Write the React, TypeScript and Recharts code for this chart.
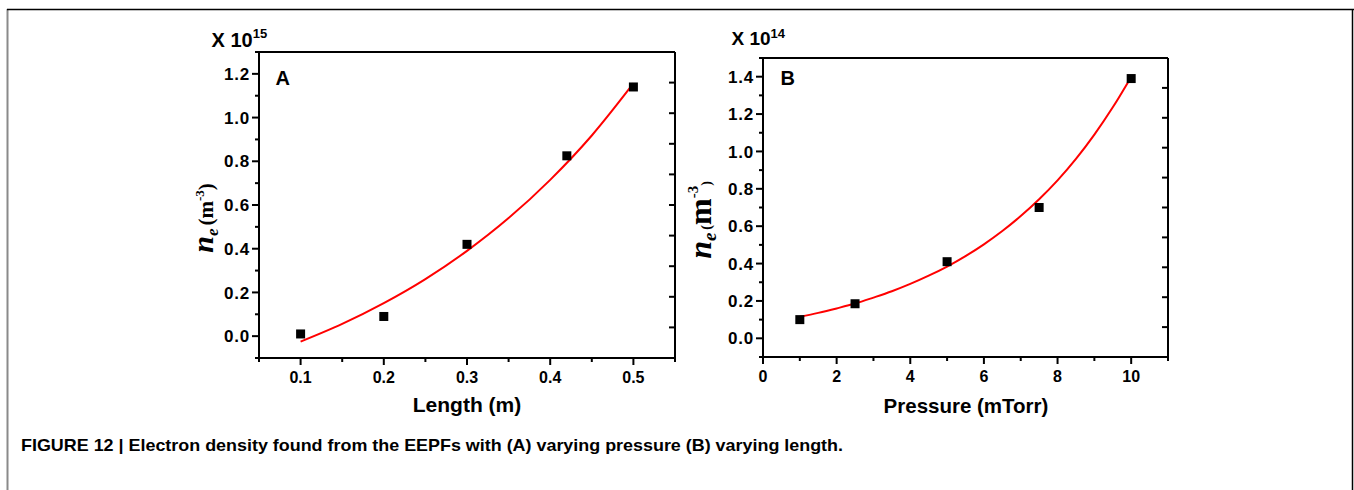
import React from "react";
import { ComposedChart, XAxis, YAxis, Line, Scatter } from "recharts";

// ---------- Panel A data (Length) ----------
const aPoints = [
  { x: 0.1, y: 0.01 },
  { x: 0.2, y: 0.09 },
  { x: 0.3, y: 0.42 },
  { x: 0.42, y: 0.825 },
  { x: 0.5, y: 1.14 },
];
const aFit = [
  { x: 0.1, y: -0.025 },
  { x: 0.15, y: 0.056 },
  { x: 0.2, y: 0.151 },
  { x: 0.25, y: 0.261 },
  { x: 0.3, y: 0.39 },
  { x: 0.35, y: 0.54 },
  { x: 0.4, y: 0.715 },
  { x: 0.45, y: 0.918 },
  { x: 0.5, y: 1.156 },
];
const aXMajor = [0.1, 0.2, 0.3, 0.4, 0.5];
const aXLabels = ["0.1", "0.2", "0.3", "0.4", "0.5"];
const aXMinor = [0.05, 0.15, 0.25, 0.35, 0.45, 0.55];
const aYMajor = [0, 0.2, 0.4, 0.6, 0.8, 1.0, 1.2];
const aYLabels = ["0.0", "0.2", "0.4", "0.6", "0.8", "1.0", "1.2"];
const aYMinor = [-0.1, 0.1, 0.3, 0.5, 0.7, 0.9, 1.1, 1.3];
const aTopTicks = [0.1, 0.15, 0.2, 0.25, 0.3, 0.35, 0.4, 0.45, 0.5];
const aRightTicks = [0.04, 0.18, 0.32, 0.46, 0.6, 0.74, 0.88, 1.02, 1.16];
const aXDomain = [0.05, 0.55];
const aYDomain = [-0.1, 1.3];

// ---------- Panel B data (Pressure) ----------
const bPoints = [
  { x: 1, y: 0.1 },
  { x: 2.5, y: 0.185 },
  { x: 5, y: 0.41 },
  { x: 7.5, y: 0.7 },
  { x: 10, y: 1.39 },
];
const bFit = [
  { x: 1, y: 0.115 },
  { x: 1.5, y: 0.136 },
  { x: 2, y: 0.16 },
  { x: 2.5, y: 0.186 },
  { x: 3, y: 0.218 },
  { x: 3.5, y: 0.252 },
  { x: 4, y: 0.291 },
  { x: 4.5, y: 0.335 },
  { x: 5, y: 0.384 },
  { x: 5.5, y: 0.44 },
  { x: 6, y: 0.503 },
  { x: 6.5, y: 0.574 },
  { x: 7, y: 0.654 },
  { x: 7.5, y: 0.744 },
  { x: 8, y: 0.845 },
  { x: 8.5, y: 0.96 },
  { x: 9, y: 1.09 },
  { x: 9.5, y: 1.236 },
  { x: 10, y: 1.399 },
];
const bXMajor = [0, 2, 4, 6, 8, 10];
const bXLabels = ["0", "2", "4", "6", "8", "10"];
const bXMinor = [1, 3, 5, 7, 9, 11];
const bYMajor = [0, 0.2, 0.4, 0.6, 0.8, 1.0, 1.2, 1.4];
const bYLabels = ["0.0", "0.2", "0.4", "0.6", "0.8", "1.0", "1.2", "1.4"];
const bYMinor = [-0.1, 0.1, 0.3, 0.5, 0.7, 0.9, 1.1, 1.3, 1.5];
const bTopTicks = [1.1, 2.2, 3.3, 4.4, 5.5, 6.6, 7.7, 8.8, 9.9];
const bRightTicks = [0.06, 0.22, 0.38, 0.54, 0.7, 0.86, 1.02, 1.18, 1.34];
const bXDomain = [0, 11];
const bYDomain = [-0.1, 1.5];

const CAPTION =
  "FIGURE 12 | Electron density found from the EEPFs with (A) varying pressure (B) varying length.";

const SANS = "'Liberation Sans', Arial, Helvetica, sans-serif";
const SERIF = "'Liberation Serif', 'Times New Roman', serif";

const sortNums = (a: number[], b: number[]) => [...a, ...b].sort((p, q) => p - q);
const findIdx = (arr: number[], v: number) => arr.findIndex((m) => Math.abs(m - v) < 1e-9);

const makeBottomTick = (majors: number[], labels: string[], fontSize: number) => (props: any) => {
  const { x, y, payload } = props;
  const i = findIdx(majors, payload.value);
  const major = i >= 0;
  return (
    <g>
      <line x1={x} x2={x} y1={y} y2={y + (major ? 7 : 4)} stroke="#000" strokeWidth={2} />
      {major && (
        <text x={x} y={y + 25} textAnchor="middle" fontFamily={SANS} fontWeight="bold" fontSize={fontSize} fill="#000">
          {labels[i]}
        </text>
      )}
    </g>
  );
};

const makeLeftTick = (majors: number[], labels: string[], fontSize: number) => (props: any) => {
  const { x, y, payload } = props;
  const i = findIdx(majors, payload.value);
  const major = i >= 0;
  return (
    <g>
      <line x1={x} x2={x - (major ? 7 : 4)} y1={y} y2={y} stroke="#000" strokeWidth={2} />
      {major && (
        <text
          x={x - 9}
          y={y}
          dy="0.36em"
          textAnchor="end"
          fontFamily={SANS}
          fontWeight="bold"
          fontSize={fontSize}
          letterSpacing={0.8}
          fill="#000"
        >
          {labels[i]}
        </text>
      )}
    </g>
  );
};

const TopTick = (props: any) => {
  const { x, y } = props;
  return <line x1={x} x2={x} y1={y} y2={y + 5} stroke="#000" strokeWidth={2} />;
};
const RightTick = (props: any) => {
  const { x, y } = props;
  return <line x1={x} x2={x - 6} y1={y} y2={y} stroke="#000" strokeWidth={2} />;
};

const SquareDot = (props: any) => {
  const { cx, cy } = props;
  if (cx == null || cy == null) return null;
  return <rect x={cx - 4.5} y={cy - 4.5} width={9} height={9} fill="#000" />;
};

const axisLineStyle = { stroke: "#000", strokeWidth: 2 };

type PanelProps = {
  width: number;
  height: number;
  margin: { top: number; right: number; bottom: number; left: number };
  points: { x: number; y: number }[];
  fit: { x: number; y: number }[];
  xDomain: number[];
  yDomain: number[];
  xMajor: number[];
  xLabels: string[];
  xMinor: number[];
  yMajor: number[];
  yLabels: string[];
  yMinor: number[];
  topTicks: number[];
  rightTicks: number[];
  xFont: number;
  yFont: number;
};

// every axis is 1px thick so that margins + 1 = plot edges
const Panel = (p: PanelProps) => (
  <ComposedChart width={p.width} height={p.height} margin={p.margin}>
    <XAxis
      xAxisId="x"
      dataKey="x"
      type="number"
      orientation="bottom"
      height={1}
      domain={p.xDomain}
      allowDataOverflow
      ticks={sortNums(p.xMajor, p.xMinor)}
      interval={0}
      tickSize={0}
      tickMargin={0}
      tickLine={false}
      axisLine={axisLineStyle}
      tick={makeBottomTick(p.xMajor, p.xLabels, p.xFont)}
    />
    <XAxis
      xAxisId="top"
      type="number"
      orientation="top"
      height={1}
      domain={p.xDomain}
      allowDataOverflow
      ticks={p.topTicks}
      interval={0}
      tickSize={0}
      tickMargin={0}
      tickLine={false}
      axisLine={axisLineStyle}
      tick={TopTick}
    />
    <YAxis
      yAxisId="y"
      type="number"
      orientation="left"
      width={1}
      domain={p.yDomain}
      allowDataOverflow
      ticks={sortNums(p.yMajor, p.yMinor)}
      interval={0}
      tickSize={0}
      tickMargin={0}
      tickLine={false}
      axisLine={axisLineStyle}
      tick={makeLeftTick(p.yMajor, p.yLabels, p.yFont)}
    />
    <YAxis
      yAxisId="right"
      type="number"
      orientation="right"
      width={1}
      domain={p.yDomain}
      allowDataOverflow
      ticks={p.rightTicks}
      interval={0}
      tickSize={0}
      tickMargin={0}
      tickLine={false}
      axisLine={axisLineStyle}
      tick={RightTick}
    />
    <Line
      xAxisId="x"
      yAxisId="y"
      data={p.fit}
      dataKey="y"
      type="monotone"
      stroke="#ff0000"
      strokeWidth={2}
      dot={false}
      activeDot={false}
      isAnimationActive={false}
    />
    <Scatter
      xAxisId="x"
      yAxisId="y"
      data={p.points}
      dataKey="y"
      shape={SquareDot}
      isAnimationActive={false}
    />
  </ComposedChart>
);

export default function App() {
  return (
    <div style={{ position: "absolute", left: 0, top: 0, width: 1354, height: 490, background: "#fff" }}>
      <div style={{ position: "absolute", left: 0, top: 0 }}>
        <Panel
          width={700}
          height={490}
          margin={{ top: 51, right: 24, bottom: 131, left: 258 }}
          points={aPoints}
          fit={aFit}
          xDomain={aXDomain}
          yDomain={aYDomain}
          xMajor={aXMajor}
          xLabels={aXLabels}
          xMinor={aXMinor}
          yMajor={aYMajor}
          yLabels={aYLabels}
          yMinor={aYMinor}
          topTicks={aTopTicks}
          rightTicks={aRightTicks}
          xFont={16}
          yFont={17}
        />
      </div>
      <div style={{ position: "absolute", left: 700, top: 0 }}>
        <Panel
          width={654}
          height={490}
          margin={{ top: 57, right: 185, bottom: 132, left: 62 }}
          points={bPoints}
          fit={bFit}
          xDomain={bXDomain}
          yDomain={bYDomain}
          xMajor={bXMajor}
          xLabels={bXLabels}
          xMinor={bXMinor}
          yMajor={bYMajor}
          yLabels={bYLabels}
          yMinor={bYMinor}
          topTicks={bTopTicks}
          rightTicks={bRightTicks}
          xFont={16}
          yFont={17}
        />
      </div>
      <svg
        width={1354}
        height={490}
        style={{ position: "absolute", left: 0, top: 0, pointerEvents: "none" }}
      >
        {/* outer frame */}
        <line x1={7.5} x2={7.5} y1={9} y2={490} stroke="#8a8a8a" strokeWidth={2} />
        <line x1={7} x2={1354} y1={9.5} y2={9.5} stroke="#000" strokeWidth={1.5} />
        <line x1={1352.5} x2={1352.5} y1={9} y2={490} stroke="#000" strokeWidth={1.5} />

        {/* multipliers */}
        <text x={211.5} y={47} fontFamily={SANS} fontWeight="bold" fontSize={20} fill="#000">
          X 10<tspan fontSize={13} dy={-9}>15</tspan>
        </text>
        <text x={731.5} y={45} fontFamily={SANS} fontWeight="bold" fontSize={19} fill="#000">
          X 10<tspan fontSize={13} dy={-7}>14</tspan>
        </text>

        {/* panel letters */}
        <text x={275.5} y={84.5} fontFamily={SANS} fontWeight="bold" fontSize={20} fill="#000">A</text>
        <text x={780.5} y={84.5} fontFamily={SANS} fontWeight="bold" fontSize={20} fill="#000">B</text>

        {/* axis titles */}
        <text x={467} y={411.5} textAnchor="middle" fontFamily={SANS} fontWeight="bold" fontSize={21} fill="#000">
          Length (m)
        </text>
        <text x={966} y={413} textAnchor="middle" fontFamily={SANS} fontWeight="bold" fontSize={20.5} fill="#000">
          Pressure (mTorr)
        </text>

        {/* y titles */}
        <text
          transform="translate(213,218) rotate(-90)"
          textAnchor="middle"
          fontFamily={SERIF}
          fontWeight="bold"
          fill="#000"
        >
          <tspan fontStyle="italic" fontSize={30}>n</tspan>
          <tspan fontStyle="italic" fontSize={17} dy={5}>e</tspan>
          <tspan fontSize={21} dy={-5} dx={3}>(m</tspan>
          <tspan fontSize={13} dy={-9}>-3</tspan>
          <tspan fontSize={21} dy={9}>)</tspan>
        </text>
        <text
          transform="translate(711,220) rotate(-90)"
          textAnchor="middle"
          fontFamily={SERIF}
          fontWeight="bold"
          fill="#000"
        >
          <tspan fontStyle="italic" fontSize={32}>n</tspan>
          <tspan fontStyle="italic" fontSize={19} dy={5}>e</tspan>
          <tspan fontSize={14} dy={-5} dx={3}>(</tspan>
          <tspan fontSize={32}>m</tspan>
          <tspan fontSize={15} dy={-13}>-3</tspan>
          <tspan fontSize={14} dy={13}>)</tspan>
        </text>

        {/* caption */}
        <text
          x={21}
          y={451}
          fontFamily={"'Liberation Sans Narrow', " + SANS}
          fontWeight="bold"
          fontSize={17}
          textLength={822}
          lengthAdjust="spacingAndGlyphs"
          fill="#000"
        >
          {CAPTION}
        </text>
      </svg>
    </div>
  );
}
